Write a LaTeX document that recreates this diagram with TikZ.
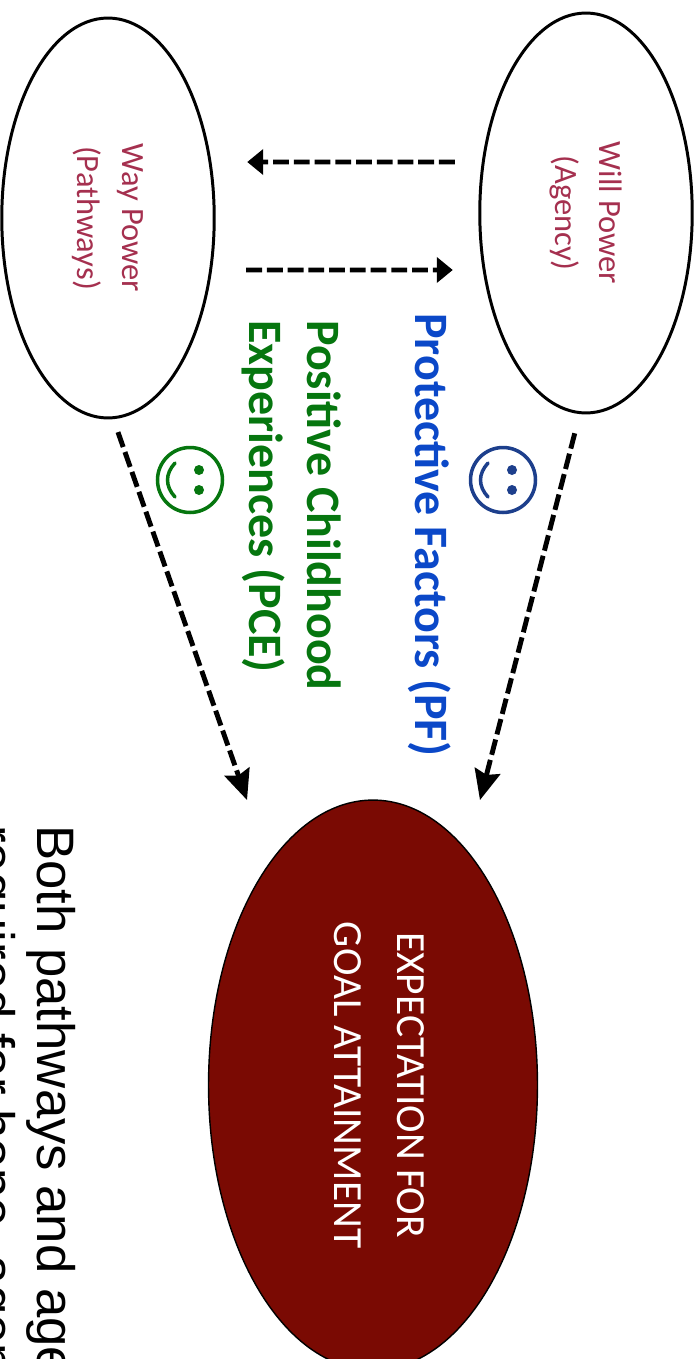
\documentclass[tikz,border=0pt]{standalone}
\usepackage{fontspec}
\setmainfont{Carlito}
\newfontfamily\arialfont{Liberation Sans}
\definecolor{HopeRed}{HTML}{7A0A03}
\definecolor{LabelRed}{HTML}{A5304F}
\definecolor{FactorBlue}{HTML}{0B48C8}
\definecolor{FaceBlue}{HTML}{1D3F8C}
\definecolor{ChildGreen}{HTML}{06760F}
\usetikzlibrary{shapes.geometric, arrows.meta, positioning}
\tikzset{
  % Ellipse styles
  powernode/.style={ellipse, draw=black, line width=1.7pt, fill=white, inner sep=0pt, outer sep=0pt, minimum width=8cm, minimum height=4.25cm, font=\fontsize{18.5}{25.5}\selectfont, text=LabelRed, align=center},
  goalnode/.style={ellipse, draw=black, line width=0.8pt, fill=HopeRed, inner sep=0pt, outer sep=0pt, minimum width=11.4cm, minimum height=6.58cm},
  % Text styles
  goaltext/.style={inner sep=0pt, font=\fontsize{23.6}{36}\selectfont, text=white, align=center},
  factortext/.style={inner sep=0pt, font=\fontsize{27.3}{33}\selectfont\bfseries, align=left, anchor=west},
  notetext/.style={inner sep=0pt, font=\arialfont\fontsize{30}{34}\selectfont, align=left, anchor=base west},
  % Arrow styles
  dasharrow/.style={-{Triangle[length=0.32cm, width=0.5cm]}, line width=2.8pt, black, dash pattern=on 9pt off 2.8pt},
  longarrow/.style={-{Stealth[length=0.6cm, width=0.52cm, inset=0.08cm]}, line width=2.8pt, black, dash pattern=on 9pt off 3pt},
  % Face
  pics/smiley/.style={code={
    \node[circle, draw=#1, line width=2pt, minimum size=1.3cm, inner sep=0pt] (-face) at (0,0) {};
    \fill[#1] (-10,9) circle (5) (10,9) circle (5);
    \draw[#1, line width=2pt, line cap=round] (-17,-15) .. controls (-6,-25) and (6,-25) .. (17,-15);
  }}
}
\begin{document}
\begin{tikzpicture}[rotate=-90, transform shape, x=0.02cm, y=0.02cm]
  \useasboundingbox (0,0) rectangle (1359,697);
  \clip (0,0) rectangle (1359,697);

  % Ellipses
  \node[powernode] (will) at (213,586) {Will Power\\(Agency)};
  \node[powernode] (way) at (218,108) {Way Power\\(Pathways)};
  \node[goalnode] (goal) at (1085,373) {};
  \node[goaltext] (goallabel) at (1085,379) {EXPECTATION FOR\\GOAL ATTAINMENT};

  % Labels
  \node[factortext, text=FactorBlue] (factors) at (313,430) {Protective Factors (PF)};
  \node[factortext, text=ChildGreen] (child) at (320,292) {Positive Childhood\\Experiences (PCE)};
  \node[notetext] (note) at (825,-22) {Both pathways and agency\\required for hope, agency};

  % Faces
  \pic at (480,503) {smiley=FaceBlue};
  \pic at (480,190) {smiley=ChildGreen};

  % Arrows
  \draw[dasharrow, shorten <=0.5cm, shorten >=0.66cm] ([xshift=-1.02cm]will.south) -- ([xshift=-1.12cm]way.north);
  \draw[dasharrow, shorten <=0.64cm, shorten >=0.54cm] ([xshift=1.04cm]way.north) -- ([xshift=1.14cm]will.south);
  \draw[longarrow, shorten <=0.42cm] ([yshift=-0.12cm]will.east) -- ([yshift=2.14cm]goal.west);
  \draw[longarrow, shorten <=0.3cm] ([yshift=0.1cm]way.east) -- ([yshift=-2.52cm]goal.west);
\end{tikzpicture}
\end{document}
